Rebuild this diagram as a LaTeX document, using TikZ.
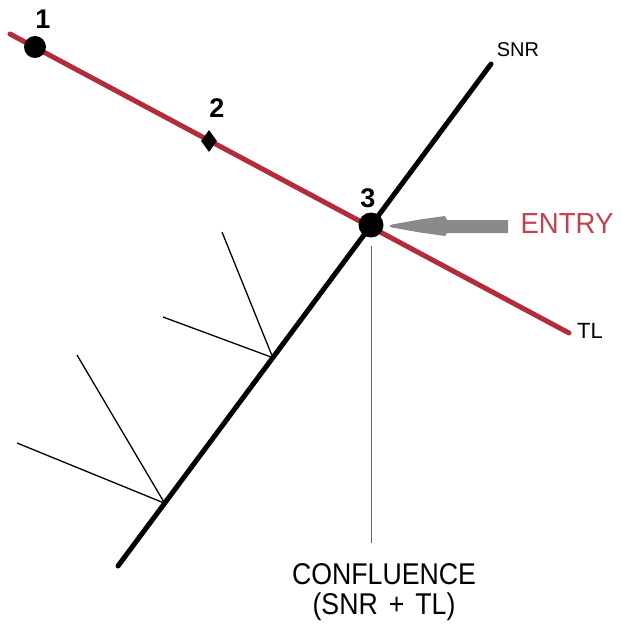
\documentclass[tikz,border=0pt]{standalone}
\usepackage{fontspec}
\setmainfont{Liberation Sans}
\usetikzlibrary{calc,shapes.geometric}
\definecolor{tlred}{RGB}{180,44,58}
\definecolor{entryred}{RGB}{196,64,80}
\definecolor{arrowgray}{RGB}{138,138,138}
\begin{document}
\begin{tikzpicture}[x=1pt,y=-1pt,
  redline/.style={draw=tlred,line width=5pt,line cap=round},
  blackline/.style={draw=black,line width=5pt,line cap=round},
  branch/.style={draw=black,line width=1.3pt},
  dot/.style={circle,fill=black,inner sep=0pt,minimum size=#1},
  diadot/.style={diamond,fill=black,inner sep=0pt,minimum width=16pt,minimum height=22pt},
  num/.style={font=\fontsize{27}{30}\selectfont\bfseries,inner sep=0pt},
  lbl/.style={inner sep=0pt,font=\fontsize{#1}{#1}\selectfont},
  pointer/.style={draw=black!60,line width=0.9pt}]
\useasboundingbox (0,0) rectangle (621,639);
% river lines
\coordinate (r0) at (10,34);
\coordinate (r1) at (569,333);
\coordinate (s0) at (118,566);
\coordinate (s1) at (491,64);
\draw[redline] (r0) -- (r1);
\draw[blackline] (s0) -- (s1);
% branches
\coordinate (b1) at ($(s0)!0.415!(s1)$);
\coordinate (b2) at ($(s0)!0.125!(s1)$);
\coordinate (b1a) at (222,232);
\coordinate (b1b) at (163,317);
\coordinate (b2a) at (77,355);
\coordinate (b2b) at (17,443);
\draw[branch] (b1a) -- (b1);
\draw[branch] (b1b) -- (b1);
\draw[branch] (b2a) -- (b2);
\draw[branch] (b2b) -- (b2);
% points
\node[dot=22pt] (p1) at (35,47) {};
\node[diadot] (p2) at (209,141) {};
\node[dot=25pt] (p3) at (371,225) {};
\node[num] (n1) at (43,19) {1};
\node[num] (n2) at (217,108) {2};
\node[num] (n3) at (368,198) {3};
% labels
\node[lbl=20] (snr) at (518,50) {SNR};
\node[lbl=22] (tl) at (590,331) {TL};
\node[lbl=29,text=entryred,xscale=0.95] (entry) at (567,224) {ENTRY};
\node[lbl=30,xscale=0.89,anchor=base] (conf) at (384,584) {CONFLUENCE};
\node[lbl=30,xscale=0.89,anchor=base] (conf2) at (384,614) {(SNR\hspace{4pt} + \hspace{4pt}TL)};
% pointer line
\draw[pointer,shorten <=8pt,shorten >=20pt] (p3.south) -- (p3.south |- conf.north);
% entry arrow
\fill[arrowgray] (508,220) -- (447,220) -- (445,216) -- (420,219.5) -- (392,224.5)
  -- (389,226) -- (392,227.5) -- (420,232.5) -- (445,236) -- (447,233) -- (508,233) -- cycle;
\end{tikzpicture}
\end{document}
